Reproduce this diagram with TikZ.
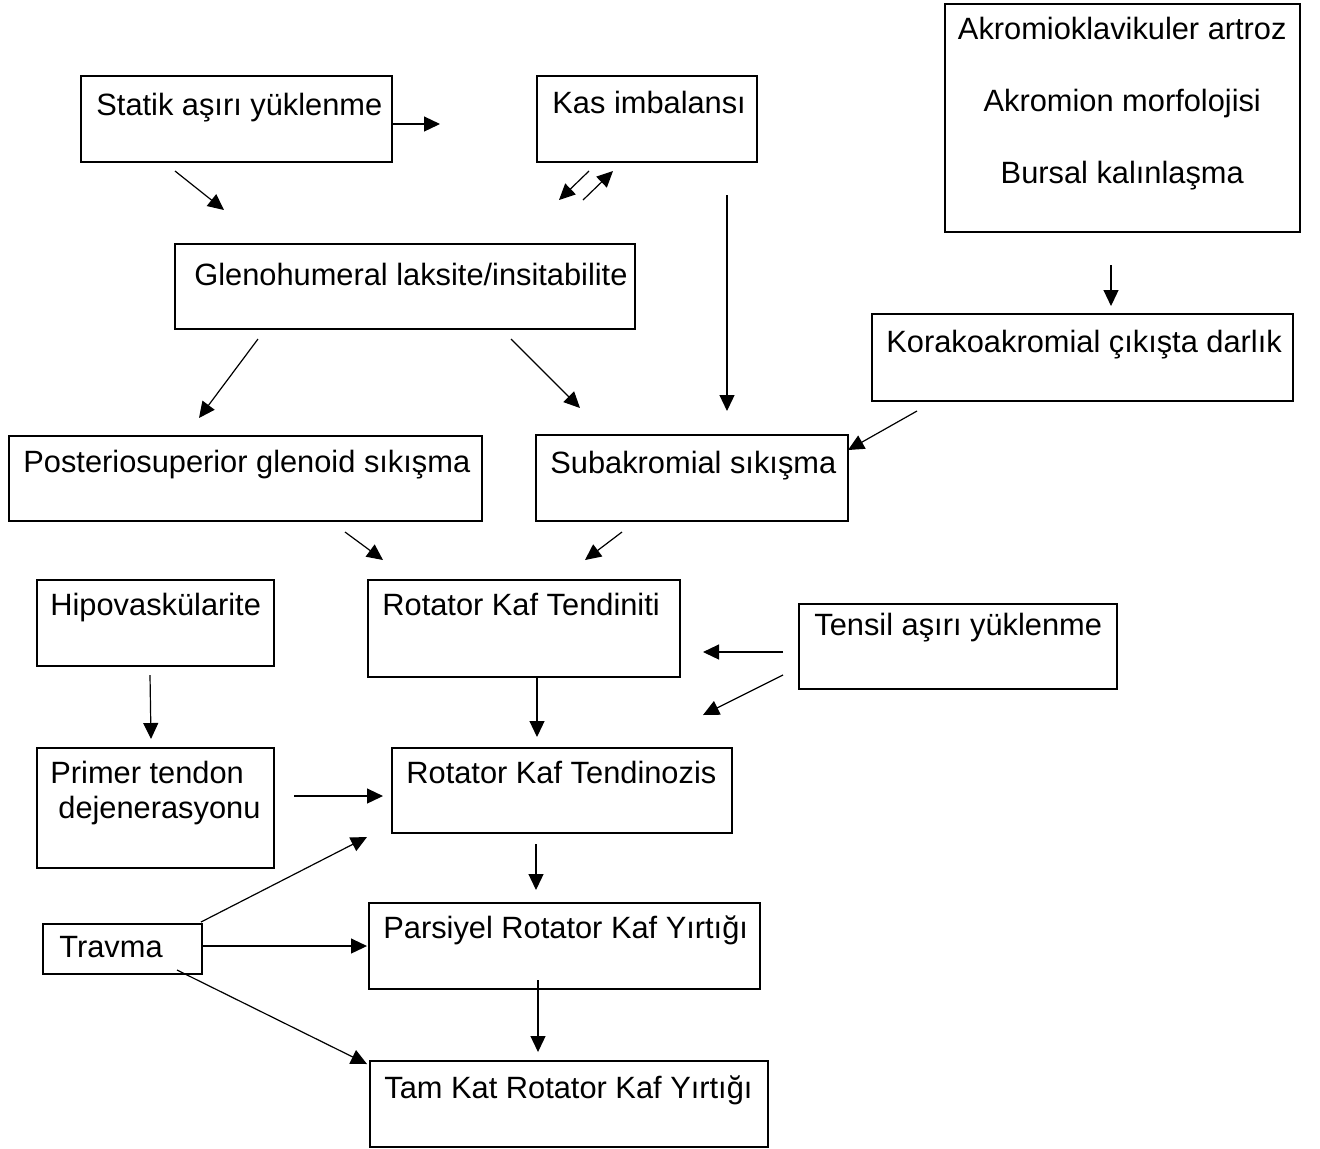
\documentclass[tikz,border=0pt]{standalone}
\usepackage{fontspec}
\setmainfont{Liberation Sans}
\usetikzlibrary{arrows.meta}

\begin{document}
\begin{tikzpicture}[
    x=0.5pt, y=-0.5pt,
    font=\fontsize{15.4}{17.5}\selectfont,
    box/.style 2 args={draw, line width=0.75pt, rectangle, anchor=north west,
                inner sep=0pt, minimum width=#1*0.5pt, minimum height=#2*0.5pt},
    txt/.style 2 args={anchor=base west, inner sep=0pt, align=left,
                xshift=#1*0.5pt, yshift=-#2*0.5pt},
    arr/.style={-{Triangle[length=8pt,width=7.5pt]}, line width=0.6pt},
    ]
\useasboundingbox (0,0) rectangle (1320,1148);

% ---- top row ----
\node[box={311}{86}, label={[txt={16}{40}]north west:Statik aşırı yüklenme}] (statik) at (80,75) {};
\node[box={220}{86}, label={[txt={16}{38}]north west:Kas imbalansı}] (kas) at (536,75) {};
% base of a multi-line label = its last line
\node[box={355}{228}, label={[anchor=base, inner sep=0pt, align=center, yshift=-90pt,
      font=\fontsize{15.4}{36}\selectfont]north:{Akromioklavikuler artroz\\Akromion morfolojisi\\Bursal kalınlaşma}}] (akromio) at (944,3) {};

% ---- instability / outlet ----
\node[box={460}{85}, label={[txt={20}{42}]north west:Glenohumeral laksite/insitabilite}] (gleno) at (174,243) {};
\node[box={421}{87}, label={[txt={15}{39}]north west:Korakoakromial çıkışta darlık}] (korako) at (871,313) {};

% ---- impingement ----
\node[box={473}{85}, label={[txt={15}{37}]north west:Posteriosuperior glenoid sıkışma}] (posterio) at (8,435) {};
\node[box={312}{86}, label={[txt={15}{39}]north west:Subakromial sıkışma}] (subakro) at (535,434) {};

% ---- tendon chain ----
\node[box={237}{86}, label={[txt={14}{36}]north west:Hipovaskülarite}] (hipo) at (36,579) {};
\node[box={312}{97}, label={[txt={15}{36}]north west:Rotator Kaf Tendiniti}] (tendiniti) at (367,579) {};
\node[box={318}{85}, label={[txt={16}{32}]north west:Tensil aşırı yüklenme}] (tensil) at (798,603) {};
\node[box={237}{120}, label={[txt={14}{71}]north west:{Primer tendon\\\hspace*{4pt}dejenerasyonu}}] (primer) at (36,747) {};
\node[box={340}{85}, label={[txt={15}{36}]north west:Rotator Kaf Tendinozis}] (tendinozis) at (391,747) {};
\node[box={159}{50}, label={[txt={17}{34}]north west:Travma}] (travma) at (42,923) {};
\node[box={391}{86}, label={[txt={15}{36}]north west:Parsiyel Rotator Kaf Yırtığı}] (parsiyel) at (368,902) {};
\node[box={398}{86}, label={[txt={15}{38}]north west:Tam Kat Rotator Kaf Yırtığı}] (tamkat) at (369,1060) {};

% ---- connector ends ----
\coordinate (statikR) at (391,124);   \coordinate (kasL) at (440,124);
\coordinate (statikB) at (175,171);   \coordinate (glenoT) at (224,210);
\coordinate (kasBa) at (589,171);     \coordinate (glenoTa) at (559,200);
\coordinate (glenoTb) at (583,200);   \coordinate (kasBb) at (613,171);
\coordinate (kasB) at (727,195);      \coordinate (subakroT) at (727,411);
\coordinate (akromioB) at (1111,265); \coordinate (korakoT) at (1111,306);
\coordinate (glenoBl) at (258,339);   \coordinate (posterioT) at (199,418);
\coordinate (glenoBr) at (511,339);   \coordinate (subakroTl) at (580,408);
\coordinate (korakoB) at (917,411);   \coordinate (subakroR) at (848,450);
\coordinate (posterioB) at (345,532); \coordinate (tendinitiTl) at (383,560);
\coordinate (subakroB) at (622,532);  \coordinate (tendinitiTr) at (585,560);
\coordinate (hipoB) at (150,675);     \coordinate (primerT) at (151,739);
\coordinate (tendinitiB) at (537,678);\coordinate (tendinozisT) at (537,737);
\coordinate (tensilLa) at (783,652);  \coordinate (tendinitiR) at (703,652);
\coordinate (tensilLb) at (783,675);  \coordinate (tendinozisTr) at (703,715);
\coordinate (primerR) at (294,796);   \coordinate (tendinozisL) at (383,796);
\coordinate (travmaT) at (201,922);   \coordinate (tendinozisBl) at (367,837);
\coordinate (travmaR) at (201,946);   \coordinate (parsiyelL) at (367,946);
\coordinate (travmaB) at (177,970);   \coordinate (tamkatL) at (367,1064);
\coordinate (tendinozisB) at (536,844);\coordinate (parsiyelT) at (536,890);
\coordinate (parsiyelB) at (538,980); \coordinate (tamkatT) at (538,1052);

% ---- edges ----
\draw[arr] (statikR) -- (kasL);
\draw[arr] (statikB) -- (glenoT);
\draw[arr] (kasBa) -- (glenoTa);
\draw[arr] (glenoTb) -- (kasBb);
\draw[arr] (kasB) -- (subakroT);
\draw[arr] (akromioB) -- (korakoT);
\draw[arr] (glenoBl) -- (posterioT);
\draw[arr] (glenoBr) -- (subakroTl);
\draw[arr] (korakoB) -- (subakroR);
\draw[arr] (posterioB) -- (tendinitiTl);
\draw[arr] (subakroB) -- (tendinitiTr);
\draw[arr] (hipoB) -- (primerT);
\draw[arr] (tendinitiB) -- (tendinozisT);
\draw[arr] (tensilLa) -- (tendinitiR);
\draw[arr] (tensilLb) -- (tendinozisTr);
\draw[arr] (primerR) -- (tendinozisL);
\draw[arr] (travmaT) -- (tendinozisBl);
\draw[arr] (travmaR) -- (parsiyelL);
\draw[arr] (travmaB) -- (tamkatL);
\draw[arr] (tendinozisB) -- (parsiyelT);
\draw[arr] (parsiyelB) -- (tamkatT);
\end{tikzpicture}
\end{document}
